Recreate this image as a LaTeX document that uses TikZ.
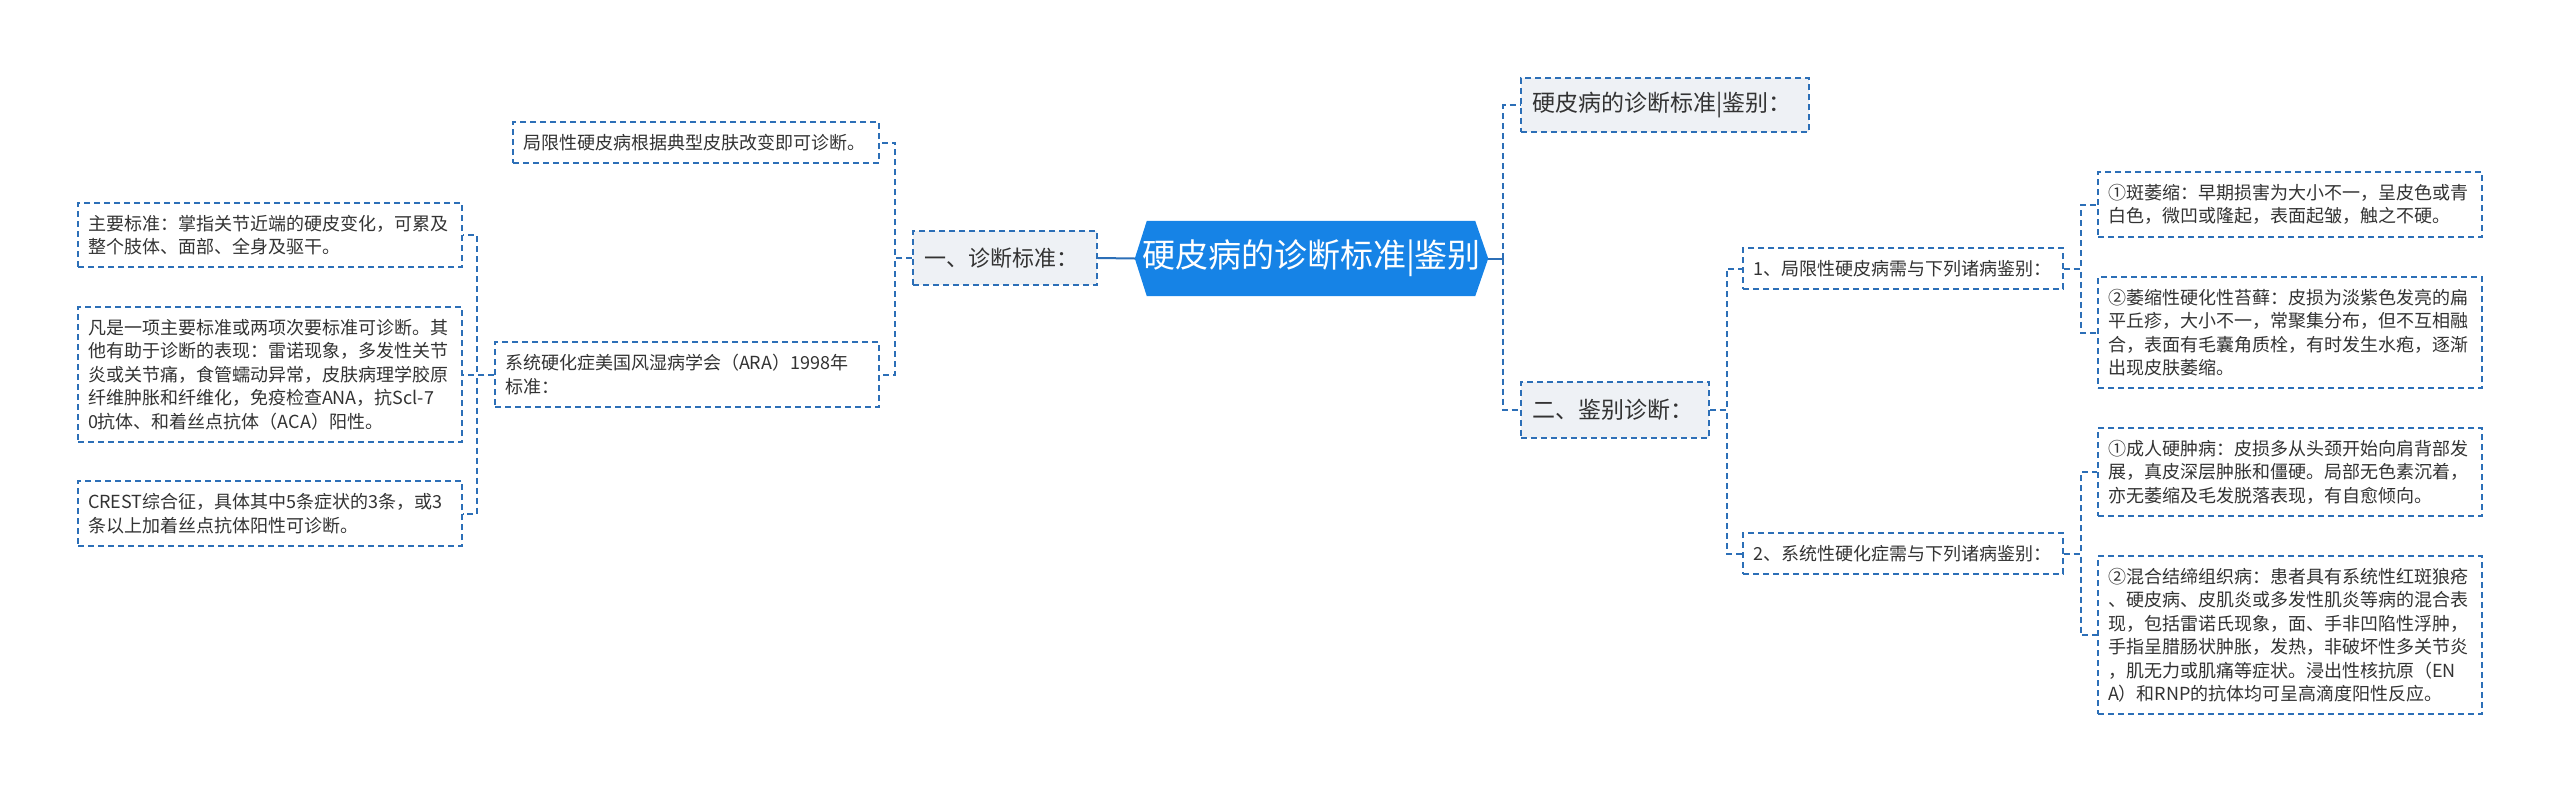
\documentclass[tikz,border=0pt]{standalone}
\usepackage{fontspec}
\setmainfont{Noto Sans CJK SC}
\pgfdeclarelayer{bg}
\pgfsetlayers{bg,main}
\definecolor{bc}{HTML}{2C6FB7}
\definecolor{rootfill}{HTML}{1683E6}
\definecolor{boxfill}{HTML}{EEF1F5}
\definecolor{txt}{HTML}{333333}
\tikzset{
  bx/.style={draw=bc, line width=1.6pt, dash pattern=on 6pt off 4pt, text=txt, align=left, inner xsep=10pt, inner ysep=0pt},
  leaf/.style={bx, fill=white, font=\fontsize{18}{23.5}\selectfont},
  lvone/.style={bx, fill=boxfill, font=\fontsize{23}{28}\selectfont, inner xsep=11pt},
  conn/.style={draw=bc, line width=2pt, dash pattern=on 6pt off 4pt},
  solidconn/.style={draw=bc, line width=2pt}
}
\begin{document}
\begin{tikzpicture}[x=1pt,y=-1pt]
\useasboundingbox (0,0) rectangle (2560,793);
% root
\node[text=white, font=\fontsize{33}{38}\selectfont, minimum width=353pt, minimum height=75pt, inner sep=0pt] (root) at (1311.5,258.5) {硬皮病的诊断标准|鉴别};
\begin{pgfonlayer}{bg}
\fill[rootfill] (root.west) -- ([xshift=12pt]root.north west) -- ([xshift=-13pt]root.north east) -- (root.east) -- ([xshift=-13pt]root.south east) -- ([xshift=12pt]root.south west) -- cycle;
\end{pgfonlayer}
% left side
\node[lvone, text width=162pt, minimum height=54pt, font=\fontsize{22}{27}\selectfont] (one) at (1005,258) {一、诊断标准：};
\node[leaf, text width=346pt, minimum height=41pt] (ju) at (696,142.5) {局限性硬皮病根据典型皮肤改变即可诊断。};
\node[leaf, text width=364pt, minimum height=65pt] (sys) at (687,374.5) {系统硬化症美国风湿病学会（ARA）1998年\\标准：};
\node[leaf, text width=364pt, minimum height=64pt] (l1) at (270,235) {主要标准：掌指关节近端的硬皮变化，可累及\\整个肢体、面部、全身及驱干。};
\node[leaf, text width=364pt, minimum height=135pt] (l2) at (270,374.5) {凡是一项主要标准或两项次要标准可诊断。其\\他有助于诊断的表现：雷诺现象，多发性关节\\炎或关节痛，食管蠕动异常，皮肤病理学胶原\\纤维肿胀和纤维化，免疫检查ANA，抗Scl-7\\0抗体、和着丝点抗体（ACA）阳性。};
\node[leaf, text width=364pt, minimum height=65pt] (l3) at (270,513.5) {CREST综合征，具体其中5条症状的3条，或3\\条以上加着丝点抗体阳性可诊断。};
% right side
\node[lvone, text width=266pt, minimum height=54pt] (h1) at (1665,105) {硬皮病的诊断标准|鉴别：};
\node[lvone, text width=166pt, minimum height=56pt] (two) at (1615,410) {二、鉴别诊断：};
\node[leaf, text width=300pt, minimum height=41pt] (a) at (1903,268.5) {1、局限性硬皮病需与下列诸病鉴别：};
\node[leaf, text width=300pt, minimum height=41pt] (b) at (1903,553.5) {2、系统性硬化症需与下列诸病鉴别：};
\node[leaf, text width=364pt, minimum height=65pt] (r1) at (2290,204.5) {①斑萎缩：早期损害为大小不一，呈皮色或青\\白色，微凹或隆起，表面起皱，触之不硬。};
\node[leaf, text width=364pt, minimum height=111pt] (r2) at (2290,332.5) {②萎缩性硬化性苔藓：皮损为淡紫色发亮的扁\\平丘疹，大小不一，常聚集分布，但不互相融\\合，表面有毛囊角质栓，有时发生水疱，逐渐\\出现皮肤萎缩。};
\node[leaf, text width=364pt, minimum height=88pt] (r3) at (2290,472) {①成人硬肿病：皮损多从头颈开始向肩背部发\\展，真皮深层肿胀和僵硬。局部无色素沉着，\\亦无萎缩及毛发脱落表现，有自愈倾向。};
\node[leaf, text width=364pt, minimum height=158pt] (r4) at (2290,635) {②混合结缔组织病：患者具有系统性红斑狼疮\\、硬皮病、皮肌炎或多发性肌炎等病的混合表\\现，包括雷诺氏现象，面、手非凹陷性浮肿，\\手指呈腊肠状肿胀，发热，非破坏性多关节炎\\，肌无力或肌痛等症状。浸出性核抗原（EN\\A）和RNP的抗体均可呈高滴度阳性反应。};
% connectors
\draw[solidconn] (root.west) -- (one.east);
\draw[conn] (one.west) -- ++(-17pt,0) |- (ju.east);
\draw[conn] (one.west) -- ++(-17pt,0) |- (sys.east);
\draw[conn] (sys.west) -- ++(-17pt,0) |- (l1.east);
\draw[conn] (sys.west) -- ++(-17pt,0) |- (l2.east);
\draw[conn] (sys.west) -- ++(-17pt,0) |- (l3.east);
\draw[solidconn] (root.east) -- ++(15pt,0) coordinate (rj);
\draw[conn] (rj) |- (h1.west);
\draw[conn] (rj) |- (two.west);
\draw[conn] (two.east) -- ++(17pt,0) |- (a.west);
\draw[conn] (two.east) -- ++(17pt,0) |- (b.west);
\draw[conn] (a.east) -- ++(17pt,0) |- (r1.west);
\draw[conn] (a.east) -- ++(17pt,0) |- (r2.west);
\draw[conn] (b.east) -- ++(17pt,0) |- (r3.west);
\draw[conn] (b.east) -- ++(17pt,0) |- (r4.west);
\end{tikzpicture}
\end{document}
